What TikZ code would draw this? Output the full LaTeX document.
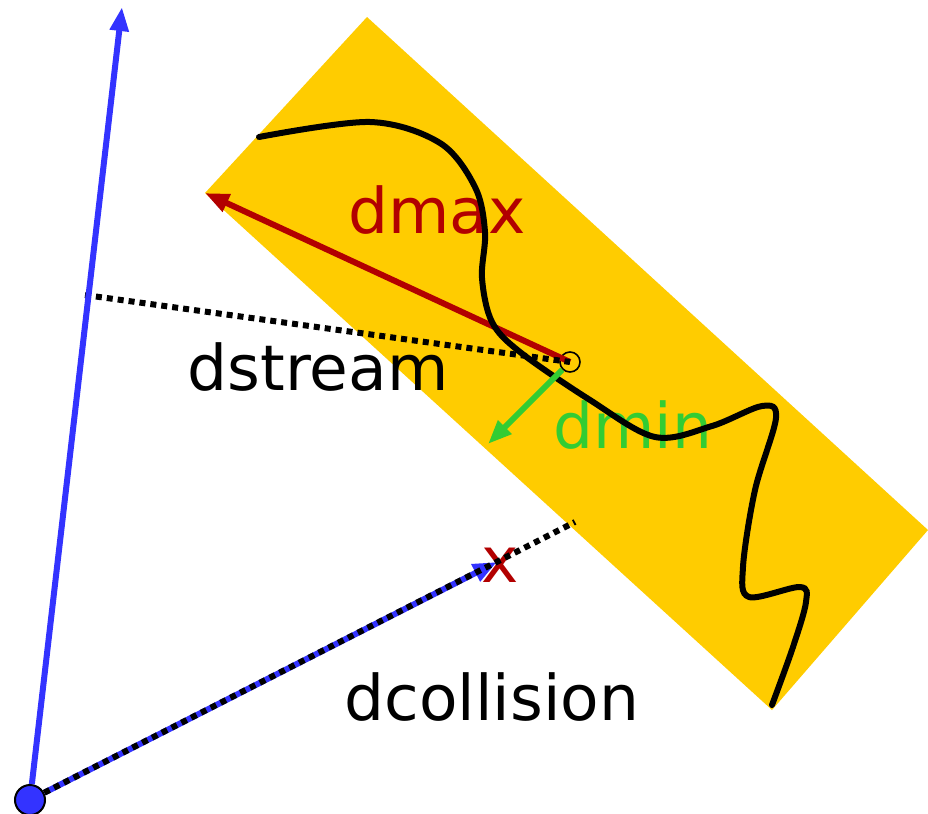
\documentclass[tikz,border=0pt]{standalone}
\usepackage{fontspec}
\setmainfont{DejaVu Sans}
\usetikzlibrary{arrows.meta}
\definecolor{zoneyellow}{RGB}{255,204,0}
\definecolor{rayblue}{RGB}{51,51,255}
\definecolor{maxred}{RGB}{178,0,0}
\definecolor{mingreen}{RGB}{51,204,51}
\tikzset{
    ray/.style={rayblue, line width=3pt, -{Triangle[length=12pt,width=9pt]}},
    distarrow/.style={line width=3pt, -{Triangle[length=12pt,width=9pt]}},
    dotline/.style={line width=3pt, dash pattern=on 3pt off 2.5pt},
    dlabel/.style={anchor=base, inner sep=0pt, font=\fontsize{31.5}{38}\selectfont},
    startdot/.style={circle, fill=rayblue, draw=black, line width=1pt, minimum size=15pt, inner sep=0pt},
    ring/.style={circle, draw=black, line width=0.8pt, minimum size=10pt, inner sep=0pt}
}

\begin{document}
\begin{tikzpicture}[x=0.5pt, y=-0.5pt]
            \useasboundingbox (0,0) rectangle (928,814);

            % 1. Stream zone
            \fill[zoneyellow] (367,17) -- (928,530) -- (772,710) -- (205,193) -- cycle;

            % 2. Points
            \node[startdot] (origin) at (30,800) {};
            \node[ring] (centre) at (570,362) {};
            \coordinate (top) at (122,7);
            \coordinate (far) at (205,193);
            \coordinate (near) at (488,444);
            \coordinate (side) at (85,295);
            \coordinate (hit) at (497,562);
            \coordinate (hitend) at (575,522);

            % 3. Labels
            \node[dlabel, maxred] (dmax) at (437,233) {dmax};
            \node[dlabel] (dstream) at (318,390) {dstream};
            \node[dlabel, mingreen] (dmin) at (633,448) {dmin};
            \node[dlabel] (dcollision) at (492,720) {dcollision};
            \node[dlabel, maxred] (xmark) at (500,582) {x};

            % 4. Distances
            \draw[distarrow, maxred] (centre.center) -- (far);
            \draw[dotline] (side) -- (centre.center);
            \draw[ray] (origin) -- (top);
            \draw[ray] (origin) -- (hit);
            \draw[dotline] (origin) -- (hitend);

            % 5. Stream
            \draw[line width=3pt, line cap=round] plot[smooth, tension=0.55] coordinates {
                (259,137) (370,122) (440,143) (475,187) (485,232) (482,278)
                (492,322) (520,352) (590,400) (655,437) (712,426)
                (762,406) (776,418) (755,490) (743,567) (749,597) (800,587)
                (806,602) (793,647) (772,705)};

            \draw[distarrow, mingreen] (centre) -- (near);
\end{tikzpicture}
\end{document}
